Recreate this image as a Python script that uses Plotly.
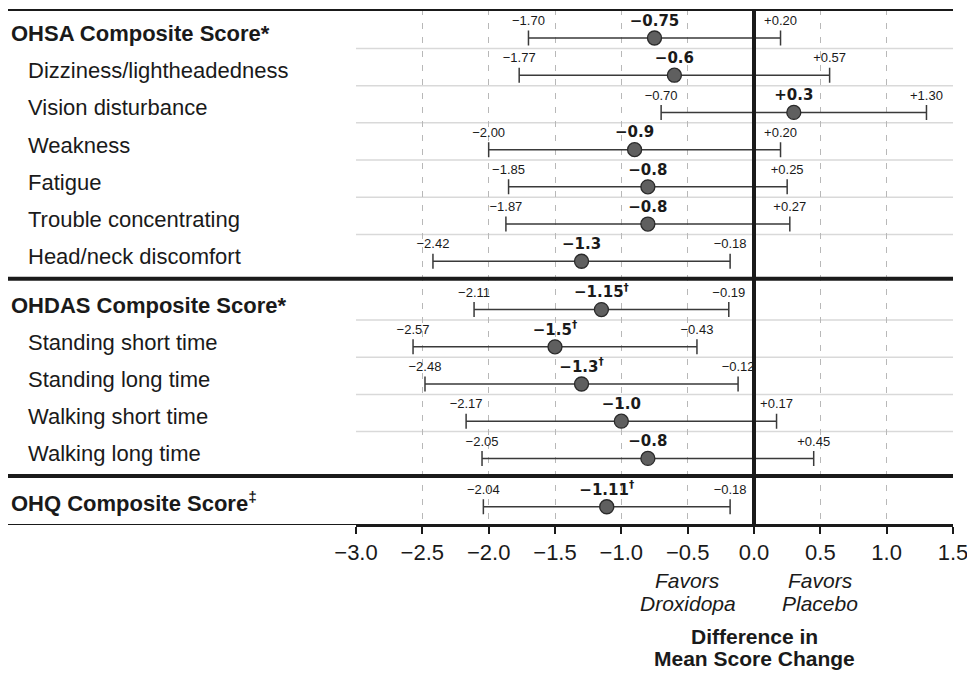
import plotly.graph_objects as go

# ---------------- data ----------------
row_labels = [
    "OHSA Composite Score*",
    "Dizziness/lightheadedness",
    "Vision disturbance",
    "Weakness",
    "Fatigue",
    "Trouble concentrating",
    "Head/neck discomfort",
    "OHDAS Composite Score*",
    "Standing short time",
    "Standing long time",
    "Walking short time",
    "Walking long time",
    "OHQ Composite Score<sup>‡</sup>",
]
row_is_header = [True, False, False, False, False, False, False,
                 True, False, False, False, False, True]
row_group = [0, 0, 0, 0, 0, 0, 0, 1, 1, 1, 1, 1, 2]

estimates = [-0.75, -0.6, 0.3, -0.9, -0.8, -0.8, -1.3,
             -1.15, -1.5, -1.3, -1.0, -0.8, -1.11]
ci_lower = [-1.70, -1.77, -0.70, -2.00, -1.85, -1.87, -2.42,
            -2.11, -2.57, -2.48, -2.17, -2.05, -2.04]
ci_upper = [0.20, 0.57, 1.30, 0.20, 0.25, 0.27, -0.18,
            -0.19, -0.43, -0.12, 0.17, 0.45, -0.18]

estimate_labels = ["−0.75", "−0.6", "+0.3", "−0.9", "−0.8", "−0.8", "−1.3",
                   "−1.15<sup>†</sup>", "−1.5<sup>†</sup>", "−1.3<sup>†</sup>",
                   "−1.0", "−0.8", "−1.11<sup>†</sup>"]
lower_labels = ["−1.70", "−1.77", "−0.70", "−2.00", "−1.85", "−1.87", "−2.42",
                "−2.11", "−2.57", "−2.48", "−2.17", "−2.05", "−2.04"]
upper_labels = ["+0.20", "+0.57", "+1.30", "+0.20", "+0.25", "+0.27", "−0.18",
                "−0.19", "−0.43", "−0.12", "+0.17", "+0.45", "−0.18"]

x_ticks = [-3.0, -2.5, -2.0, -1.5, -1.0, -0.5, 0.0, 0.5, 1.0, 1.5]
x_tick_labels = ["−3.0", "−2.5", "−2.0", "−1.5", "−1.0", "−0.5",
                 "0.0", "0.5", "1.0", "1.5"]

# ---------------- layout helpers ----------------
W, H = 967, 673
ML, MR, MT, MB = 356, 14, 9, 148
PW, PH = W - ML - MR, H - MT - MB

GROUP_GAP = 0.3
y_pos = [i + GROUP_GAP * g for i, g in enumerate(row_group)]
y_top = y_pos[0] - 0.78
y_bot = y_pos[-1] + 0.49
LIFT = 0.43

def px_to_paper_x(px):
    return (px - ML) / PW

def px_to_paper_y(py):
    return (H - MB - py) / PH

TEXT = "#1a1a1a"
SANS = "Liberation Sans, Arial, Helvetica, sans-serif"

fig = go.Figure()

# estimates with CI
fig.add_trace(go.Scatter(
    x=estimates, y=y_pos, mode="markers",
    marker=dict(size=14, color="#5f5f5f", line=dict(color="#2a2a2a", width=1.3)),
    error_x=dict(type="data", symmetric=False,
                 array=[u - e for u, e in zip(ci_upper, estimates)],
                 arrayminus=[e - l for e, l in zip(estimates, ci_lower)],
                 color="#3a3a3a", thickness=1.5, width=7.5),
    hoverinfo="skip", showlegend=False, cliponaxis=False,
))

y_lab = [y - LIFT for y in y_pos]
fig.add_trace(go.Scatter(
    x=estimates, y=y_lab, mode="text", text=estimate_labels,
    textposition="middle center",
    textfont=dict(family="DejaVu Sans", size=15, color=TEXT, weight="bold"),
    hoverinfo="skip", showlegend=False, cliponaxis=False,
))
fig.add_trace(go.Scatter(
    x=ci_lower, y=y_lab, mode="text", text=lower_labels,
    textposition="middle center",
    textfont=dict(family=SANS, size=13, color=TEXT),
    hoverinfo="skip", showlegend=False, cliponaxis=False,
))
fig.add_trace(go.Scatter(
    x=ci_upper, y=y_lab, mode="text", text=upper_labels,
    textposition="middle center",
    textfont=dict(family=SANS, size=13, color=TEXT),
    hoverinfo="skip", showlegend=False, cliponaxis=False,
))

# ---------------- shapes ----------------
shapes = []
full_left = px_to_paper_x(8)
# top thick line
shapes.append(dict(type="line", xref="paper", yref="y", x0=full_left, x1=1,
                   y0=y_top, y1=y_top, line=dict(color="#1a1a1a", width=4)))
# bottom line across full width
shapes.append(dict(type="line", xref="paper", yref="y", x0=full_left, x1=1,
                   y0=y_bot, y1=y_bot, line=dict(color="#1a1a1a", width=2)))
for i, y in enumerate(y_pos):
    last_in_group = (i == len(y_pos) - 1) or (row_group[i + 1] != row_group[i])
    if not last_in_group:
        shapes.append(dict(type="line", xref="paper", yref="y", x0=0, x1=1,
                           y0=y + 0.28, y1=y + 0.28, layer="below",
                           line=dict(color="#d9d9d9", width=1.5)))
    elif i != len(y_pos) - 1:
        shapes.append(dict(type="line", xref="paper", yref="y", x0=full_left, x1=1,
                           y0=y + 0.47, y1=y + 0.47,
                           line=dict(color="#1a1a1a", width=4)))
# zero line
shapes.append(dict(type="line", xref="x", yref="y", x0=0, x1=0,
                   y0=y_top, y1=y_bot, line=dict(color="#1a1a1a", width=4)))

# ---------------- annotations ----------------
annotations = []
for lab, hdr, y in zip(row_labels, row_is_header, y_pos):
    annotations.append(dict(
        xref="paper", yref="y", x=px_to_paper_x(9 if hdr else 26), y=y - 0.12,
        xanchor="left", yanchor="middle", showarrow=False,
        text=f"<b>{lab}</b>" if hdr else lab,
        font=dict(family=SANS, size=22, color=TEXT),
    ))

bottom_texts = [
    ("<i>Favors</i>", -0.5, 580),
    ("<i>Droxidopa</i>", -0.5, 603),
    ("<i>Favors</i>", 0.5, 580),
    ("<i>Placebo</i>", 0.5, 603),
    ("<b>Difference in</b>", 0.0, 636),
    ("<b>Mean Score Change</b>", 0.0, 658),
]
for txt, xv, py in bottom_texts:
    annotations.append(dict(
        xref="x", yref="paper", x=xv, y=px_to_paper_y(py),
        xanchor="center", yanchor="middle", showarrow=False, text=txt,
        font=dict(family=SANS, size=21, color=TEXT),
    ))

fig.update_layout(
    width=W, height=H,
    margin=dict(l=ML, r=MR, t=MT, b=MB, pad=0),
    paper_bgcolor="white", plot_bgcolor="white",
    shapes=shapes, annotations=annotations,
    xaxis=dict(
        range=[x_ticks[0], x_ticks[-1]], tickvals=x_ticks, ticktext=x_tick_labels,
        showgrid=True, gridcolor="#b8b8b8", gridwidth=1, griddash="6px,8px",
        zeroline=False, showline=True, linecolor="#1a1a1a", linewidth=2,
        ticks="outside", ticklen=7, tickwidth=1.5, tickcolor="#1a1a1a",
        tickfont=dict(family=SANS, size=22, color=TEXT),
        ticklabeloverflow="allow",
        automargin=False, fixedrange=True,
    ),
    yaxis=dict(range=[y_bot, y_top], visible=False, fixedrange=True),
    showlegend=False,
)

fig.write_html(
    "out.html",
    config={"displayModeBar": False},
    post_script="document.body.style.margin='0';document.body.style.overflow='hidden';",
)
